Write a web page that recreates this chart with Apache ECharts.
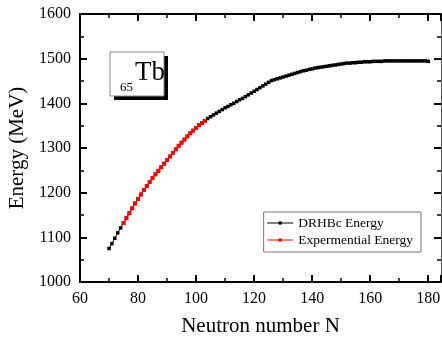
<!DOCTYPE html>
<html>
<head>
<meta charset="utf-8">
<script src="https://cdn.jsdelivr.net/npm/echarts@6/dist/echarts.min.js"></script>
<style>
  html, body { margin: 0; padding: 0; background: #fff; }
  #chart { width: 442px; height: 338px; }
</style>
</head>
<body>
<div id="chart"></div>
<script>
// neutron numbers for the DRHBc calculation (70..180)
const drhbcN = [];
for ( let n = 70; n <= 180; n++ ) {
	drhbcN.push( n );
}
const drhbcEnergy = [
	1075, 1086, 1098, 1110, 1121, 1132, 1143, 1154, 1165, 1176,
	1186, 1196, 1206, 1215, 1224, 1233, 1241, 1249, 1257, 1265,
	1273, 1281, 1289, 1297, 1305, 1312, 1319, 1326, 1333, 1339,
	1345, 1351, 1356, 1361, 1366, 1370, 1374, 1378, 1382, 1386,
	1390, 1393, 1397, 1400, 1404, 1408, 1411, 1415, 1419, 1423,
	1427, 1431, 1435, 1439, 1443, 1447, 1451, 1453, 1455, 1457,
	1459, 1461, 1463, 1465, 1467, 1469, 1471, 1473, 1474, 1476,
	1477, 1479, 1480, 1481, 1482, 1483, 1484, 1485, 1486, 1487,
	1488, 1489, 1490, 1490, 1491, 1491, 1492, 1492, 1493, 1493,
	1493, 1494, 1494, 1494, 1494, 1495, 1495, 1495, 1495, 1495,
	1495, 1495, 1495, 1495, 1495, 1495, 1495, 1495, 1495, 1495,
	1494
];
// experimental masses available for N = 75..103
const expN = [];
for ( let n = 75; n <= 103; n++ ) {
	expN.push( n );
}
const expEnergy = [
	1132, 1143, 1154, 1165, 1176, 1186, 1196, 1206, 1215, 1224,
	1233, 1241, 1249, 1257, 1265, 1273, 1281, 1289, 1297, 1305,
	1312, 1319, 1326, 1333, 1339, 1345, 1351, 1356, 1361
];

const serif = '"Liberation Serif", "DejaVu Serif", serif';
const pairs = ( xs, ys ) => xs.map( ( x, i ) => [ x, ys[ i ] ] );

const baseX = {
	type: 'value',
	min: 60,
	max: 184.4,
	interval: 20,
	axisLine: { onZero: false, lineStyle: { color: '#000', width: 2 } },
	axisTick: { inside: true, length: 7, lineStyle: { color: '#000', width: 2 } },
	minorTick: { show: true, splitNumber: 2, length: 4, lineStyle: { color: '#000', width: 1.5 } },
	splitLine: { show: false }
};
const baseY = {
	type: 'value',
	min: 1000,
	max: 1600,
	interval: 100,
	axisLine: { onZero: false, lineStyle: { color: '#000', width: 2 } },
	axisTick: { inside: true, length: 7, lineStyle: { color: '#000', width: 2 } },
	minorTick: { show: true, splitNumber: 2, length: 4, lineStyle: { color: '#000', width: 1.5 } },
	splitLine: { show: false }
};

const chart = echarts.init( document.getElementById( 'chart' ), null, { renderer: 'canvas' } );
chart.setOption( {
	animation: false,
	backgroundColor: '#fff',
	textStyle: { fontFamily: serif },
	grid: { left: 80, right: 1, top: 14, bottom: 56, outerBoundsMode: 'none', containLabel: false },
	xAxis: [
		Object.assign( {}, baseX, {
			position: 'bottom',
			name: 'Neutron number N',
			nameLocation: 'middle',
			nameGap: 34,
			nameTextStyle: { fontFamily: serif, fontSize: 21, color: '#000' },
			axisLabel: {
				fontFamily: serif, fontSize: 16, color: '#000', margin: 9,
				formatter: ( v ) => ( v % 20 === 0 ? String( v ) : '' )
			}
		} ),
		Object.assign( {}, baseX, { position: 'top', axisLabel: { show: false } } )
	],
	yAxis: [
		Object.assign( {}, baseY, {
			position: 'left',
			name: 'Energy (MeV)',
			nameLocation: 'middle',
			nameGap: 52,
			nameTextStyle: { fontFamily: serif, fontSize: 21, color: '#000' },
			axisLabel: {
				fontFamily: serif, fontSize: 16, color: '#000', margin: 9,
				formatter: ( v ) => String( v )
			}
		} ),
		Object.assign( {}, baseY, {
			position: 'right',
			axisLabel: { show: false },
			axisLine: { onZero: false, lineStyle: { color: '#555', width: 1 } }
		} )
	],
	legend: {
		right: 21,
		top: 212,
		orient: 'vertical',
		itemGap: 3,
		itemWidth: 26,
		itemHeight: 4,
		padding: [ 4, 8, 5, 3 ],
		borderColor: '#777',
		borderWidth: 1,
		lineStyle: { width: 1 },
		textStyle: { fontFamily: serif, fontSize: 13.5, color: '#000' },
		data: [ 'DRHBc Energy', 'Expermential Energy' ]
	},
	series: [
		{
			name: 'DRHBc Energy',
			type: 'line',
			data: pairs( drhbcN, drhbcEnergy ),
			symbol: 'rect',
			symbolSize: 3.5,
			itemStyle: { color: '#000' },
			lineStyle: { color: '#000', width: 1 },
			z: 2
		},
		{
			name: 'Expermential Energy',
			type: 'line',
			data: pairs( expN, expEnergy ),
			symbol: 'rect',
			symbolSize: 4,
			itemStyle: { color: '#ff0000' },
			lineStyle: { color: '#ff0000', width: 1 },
			z: 3
		}
	],
	graphic: [
		{
			type: 'rect',
			shape: { x: 114, y: 56, width: 54, height: 44 },
			style: { fill: '#000' }
		},
		{
			type: 'rect',
			shape: { x: 110, y: 52, width: 54, height: 44 },
			style: { fill: '#fff', stroke: '#888', lineWidth: 1 }
		},
		{
			type: 'text',
			x: 120,
			y: 81,
			style: { text: '65', font: '13px ' + serif, fill: '#000' }
		},
		{
			type: 'text',
			x: 135,
			y: 59,
			style: { text: 'Tb', font: '27px ' + serif, fill: '#000' }
		}
	]
} );
</script>
</body>
</html>
